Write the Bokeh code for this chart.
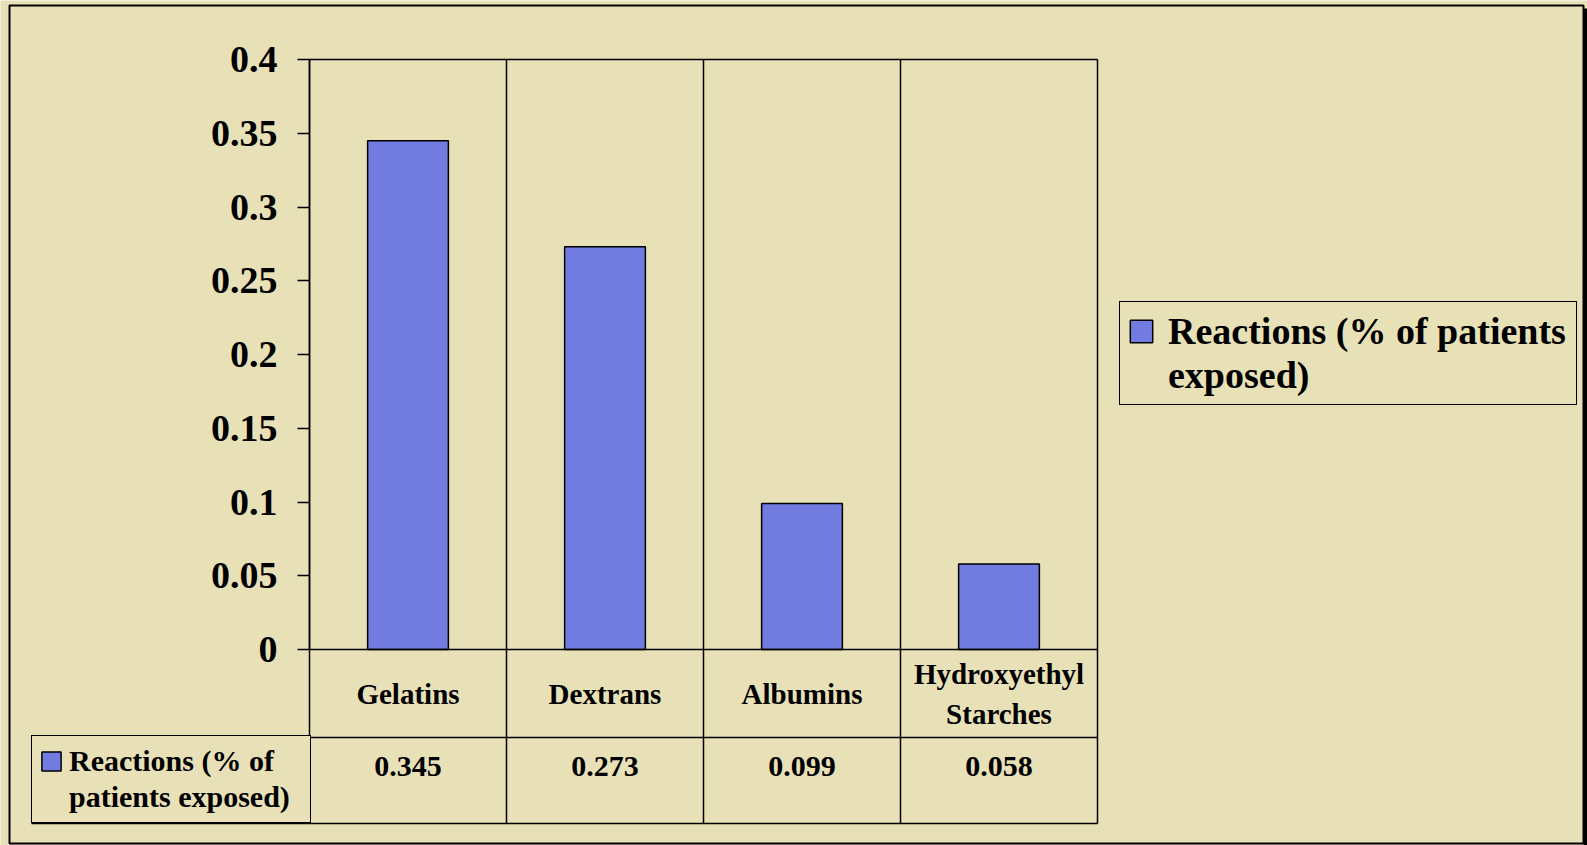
from bokeh.plotting import figure
from bokeh.models import (Range1d, FixedTicker, CustomJSTickFormatter, LinearAxis,
                          Legend, LegendItem, BoxAnnotation, ColumnDataSource)
from bokeh.core.properties import value
from bokeh.embed import file_html
from bokeh.resources import INLINE

# ---- data ----
categories = ["Gelatins", "Dextrans", "Albumins", "Hydroxyethyl Starches"]
category_labels = ["Gelatins", "Dextrans", "Albumins", "Hydroxyethyl\nStarches"]
reactions = [0.345, 0.273, 0.099, 0.058]
y_ticks = [0, 0.05, 0.1, 0.15, 0.2, 0.25, 0.3, 0.35, 0.4]
legend_lines_right = ["Reactions (% of patients", "exposed)"]
legend_lines_table = ["Reactions (% of", "patients exposed)"]

BG = "#E8E1B7"
BAR = "#717BE0"
FONT = value("Liberation Serif")

n = len(categories)
xpos = [i + 0.5 for i in range(n)]
value_labels = [f"{v:.3f}" for v in reactions]
src = ColumnDataSource(dict(x=xpos, label=category_labels, val=reactions, vlabel=value_labels))

# layout geometry (pixels) -> data ranges
W, H = 1587, 845
PX_LEFT, PX_CAT = 309, 197          # plot area left edge, category width
PX_ZERO, PX_PER_UNIT = 649, 1475    # y=0 position, pixels per y unit
x_start = -PX_LEFT / PX_CAT
x_end = (W - PX_LEFT) / PX_CAT
y_top = PX_ZERO / PX_PER_UNIT
y_bot = -(H - PX_ZERO) / PX_PER_UNIT
y_row1 = -(737 - PX_ZERO) / PX_PER_UNIT
y_row2 = -(823 - PX_ZERO) / PX_PER_UNIT
y_cat_text = -(693 - PX_ZERO) / PX_PER_UNIT
y_val_text = -(766 - PX_ZERO) / PX_PER_UNIT
x_table_left = -(PX_LEFT - 31) / PX_CAT

p = figure(width=W, height=H,
           x_range=Range1d(x_start, x_end), y_range=Range1d(y_bot, y_top),
           output_backend="svg", toolbar_location=None,
           x_axis_location=None, y_axis_location=None,
           min_border=0, min_border_left=0, min_border_right=0, min_border_top=0, min_border_bottom=0,
           background_fill_color=BG, border_fill_color=BG, outline_line_color=None)
p.xgrid.visible = False
p.ygrid.visible = False

yax = LinearAxis(fixed_location=0)
yax.ticker = FixedTicker(ticks=y_ticks)
yax.formatter = CustomJSTickFormatter(code="return String(Math.round(tick*100)/100)")
yax.bounds = (0, 0.4)
yax.axis_line_width = 1.5
yax.axis_line_color = "black"
yax.major_tick_line_width = 1.5
yax.major_tick_line_color = "black"
yax.major_tick_out = 12
yax.major_tick_in = 0
yax.minor_tick_out = 0
yax.minor_tick_in = 0
yax.major_label_standoff = 20
yax.major_label_text_font = "Liberation Serif"
yax.major_label_text_font_style = "bold"
yax.major_label_text_font_size = "38px"
yax.major_label_text_color = "black"
p.add_layout(yax, "left")

bars = p.vbar(x="x", top="val", width=0.41, source=src, fill_color=BAR,
              line_color="black", line_width=1.5)

# plot area / table grid lines
h_x0 = [0, 0, x_table_left, x_table_left]
h_y = [0.4, 0, y_row1, y_row2]
p.segment(x0=h_x0, y0=h_y, x1=[n] * 4, y1=h_y, line_color="black", line_width=1.5)
v_x = list(range(n + 1))
p.segment(x0=v_x, y0=[0.4] * (n + 1), x1=v_x, y1=[y_row2] * (n + 1),
          line_color="black", line_width=1.5)

# table texts
p.text(x="x", y=y_cat_text, text="label", source=src, text_font=FONT, text_font_style="bold",
       text_font_size="29px", text_align="center", text_baseline="middle", text_line_height=1.25,
       text_color="black")
p.text(x="x", y=y_val_text, text="vlabel", source=src, text_font=FONT, text_font_style="bold",
       text_font_size="30px", text_align="center", text_baseline="middle", text_color="black")

common = dict(border_line_color="black", border_line_width=1.5, border_line_alpha=1.0,
              background_fill_color=BG, background_fill_alpha=1.0, margin=0, spacing=0,
              label_text_font="Liberation Serif", label_text_font_style="bold",
              label_text_color="black")

leg_right = Legend(items=[LegendItem(label=legend_lines_right[0], renderers=[bars]),
                          LegendItem(label=legend_lines_right[1], renderers=[])],
                   location=(1119, H - 405), padding=7, glyph_width=28, glyph_height=28,
                   label_standoff=13, label_width=401, label_height=44,
                   label_text_font_size="38px", **common)
leg_table = Legend(items=[LegendItem(label=legend_lines_table[0], renderers=[bars]),
                          LegendItem(label=legend_lines_table[1], renderers=[])],
                   location=(31, H - 823), padding=7, glyph_width=24, glyph_height=24,
                   label_standoff=6, label_width=234, label_height=36,
                   label_text_font_size="30px", **common)
p.add_layout(leg_right)
p.add_layout(leg_table)

# outer frame
cu = dict(left_units="canvas", right_units="canvas", top_units="canvas", bottom_units="canvas")
p.add_layout(BoxAnnotation(left=1583, right=1587, top=8, bottom=845, fill_color="black",
                           fill_alpha=1, line_color=None, level="overlay", **cu))
p.add_layout(BoxAnnotation(left=9, right=1583, top=5, bottom=843, fill_color=None,
                           fill_alpha=0, line_color="black", line_width=2, line_alpha=1,
                           level="overlay", **cu))

open("out.html", "w").write(file_html(p, INLINE))
